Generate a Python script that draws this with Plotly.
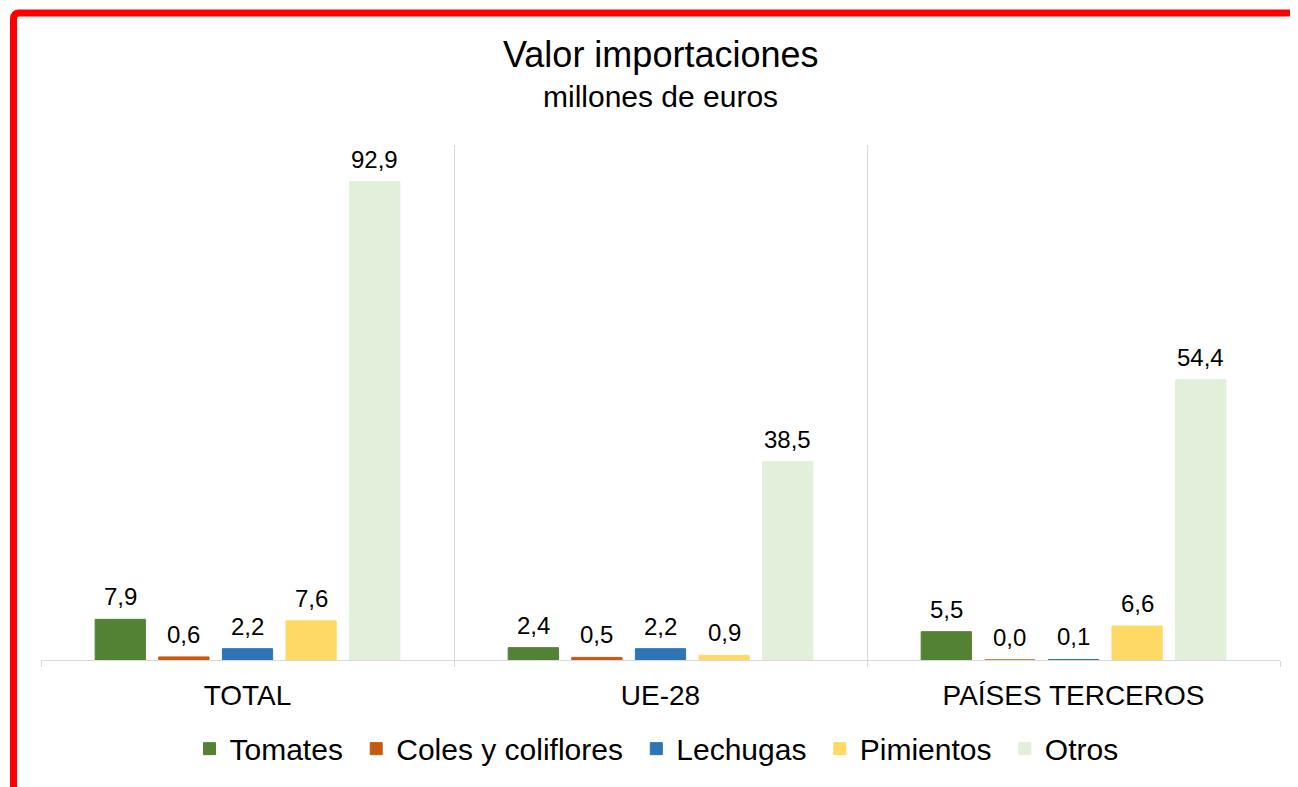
import plotly.graph_objects as go

categories = ["TOTAL", "UE-28", "PAÍSES TERCEROS"]
series_names = ["Tomates", "Coles y coliflores", "Lechugas", "Pimientos", "Otros"]
tomates = [7.9, 2.4, 5.5]
coles = [0.6, 0.5, 0.0]
lechugas = [2.2, 2.2, 0.1]
pimientos = [7.6, 0.9, 6.6]
otros = [92.9, 38.5, 54.4]
colors = ["#548235", "#C55A11", "#2E75B6", "#FFD966", "#E2EFDA"]

values = [tomates, coles, lechugas, pimientos, otros]
font = "Liberation Sans, Arial, sans-serif"

# page body has an 8px margin; compensate so the figure lines up with the 1298x787 window
OFF = 8
W, H = 1298 - OFF, 787 - OFF
ml, mr, mt, mb = 41 - OFF, 18, 145 - OFF, 125
pw, ph = W - ml - mr, H - mt - mb
BARGAP = 0.23
NSER = len(series_names)
slot_px = pw / len(categories) * (1 - BARGAP) / NSER

def px(x):
    return (x - OFF - ml) / pw

def py(y):
    return (H - mb - (y - OFF)) / ph

fig = go.Figure()
annotations = []
for i, (name, vals, col) in enumerate(zip(series_names, values, colors)):
    fig.add_trace(go.Bar(
        x=categories, y=vals, name=name + "\u00a0",
        marker=dict(color=col, line=dict(width=1, color=col)),
        cliponaxis=False,
    ))
    for cat, v in zip(categories, vals):
        annotations.append(dict(
            x=cat, y=v, xref="x", yref="y", text=f"{v:.1f}".replace(".", ","),
            showarrow=False, xanchor="center", yanchor="bottom",
            xshift=(i - (NSER - 1) / 2) * slot_px, yshift=7,
            font=dict(size=24, family=font, color="#000000"),
        ))

annotations += [
    dict(text="Valor importaciones", xref="paper", yref="paper", x=px(660), y=py(54),
         xanchor="center", yanchor="middle", showarrow=False,
         font=dict(size=36, family=font, color="#000000")),
    dict(text="millones de euros", xref="paper", yref="paper", x=px(660), y=py(96),
         xanchor="center", yanchor="middle", showarrow=False,
         font=dict(size=30, family=font, color="#000000")),
]

fig.update_layout(
    width=W, height=H,
    margin=dict(l=ml, r=mr, t=mt, b=mb),
    paper_bgcolor="white", plot_bgcolor="white",
    barmode="group", bargap=BARGAP, bargroupgap=0.21,
    font=dict(family=font, color="#000000"),
    xaxis=dict(
        type="category", tickson="boundaries", showgrid=True, gridcolor="#D9D9D9", gridwidth=1,
        ticks="outside", ticklen=6, tickcolor="#D9D9D9",
        showline=True, linecolor="#D9D9D9", linewidth=1,
        ticklabelstandoff=10,
        tickfont=dict(size=28, family=font, color="#000000"),
    ),
    yaxis=dict(range=[0, 100], visible=False, showgrid=False, zeroline=False),
    legend=dict(
        orientation="h", x=0.5, xanchor="center", y=py(751), yanchor="middle",
        font=dict(size=30, family=font, color="#000000"),
        itemwidth=30, tracegroupgap=0, traceorder="normal",
    ),
    showlegend=True,
    annotations=annotations,
    shapes=[
        dict(type="path", xref="paper", yref="paper",
             path=f"M {px(13.5)},{py(800)} L {px(13.5)},{py(18)} Q {px(13.5)},{py(12.5)} {px(19)},{py(12.5)} L {px(1320)},{py(12.5)}",
             line=dict(color="#FF0000", width=7)),
    ],
)

fig.write_html("out.html")
